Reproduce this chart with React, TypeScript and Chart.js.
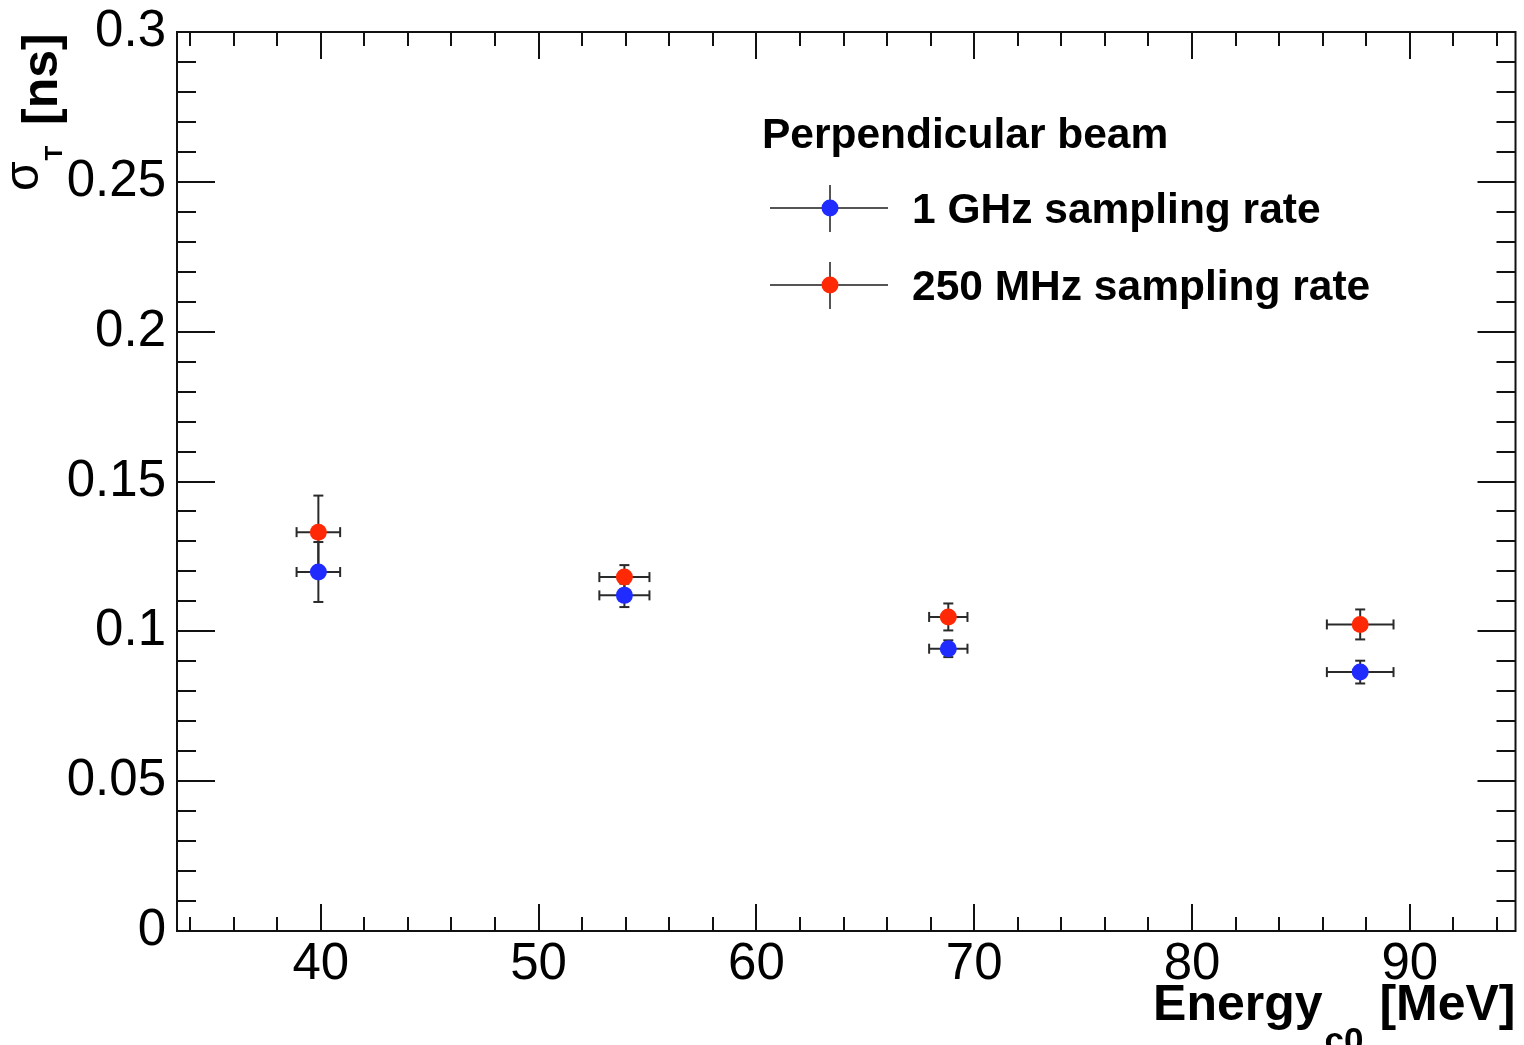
import React, { useEffect, useRef } from "react";
import { Chart, registerables } from "chart.js";

Chart.register(...registerables);

// ---------------- data ----------------
const energies = [39.89, 53.94, 68.81, 87.72];
const energyErr = [1.0, 1.15, 0.88, 1.53];
const sigma1GHz = [0.1198, 0.112, 0.0942, 0.0864];
const sigma1GHzErr = [0.01, 0.0039, 0.0028, 0.0038];
const sigma250MHz = [0.1331, 0.1181, 0.1048, 0.1023];
const sigma250MHzErr = [0.0122, 0.004, 0.0045, 0.005];
const xTickValues = [40, 50, 60, 70, 80, 90];
const xTickLabels = ["40", "50", "60", "70", "80", "90"];
const yTickValues = [0, 0.05, 0.1, 0.15, 0.2, 0.25, 0.3];
const yTickLabels = ["0", "0.05", "0.1", "0.15", "0.2", "0.25", "0.3"];
const seriesNames = ["1 GHz sampling rate", "250 MHz sampling rate"];
const legendHeader = "Perpendicular beam";

const X_MIN = 33.4;
const X_MAX = 94.85;
const Y_MIN = 0;
const Y_MAX = 0.3;

const FONT = '"Liberation Sans", Arial, Helvetica, sans-serif';
const BLUE = "#1f2bff";
const RED = "#ff2a05";
const ERR_COLOR = "#2a2a2a";

// ---------------- plugins ----------------
const framePlugin = {
  id: "rootFrame",
  beforeDatasetsDraw(chart: any) {
    const { ctx, chartArea, scales } = chart;
    const { left, right, top, bottom } = chartArea;
    const x = scales.x;
    const y = scales.y;
    ctx.save();
    ctx.strokeStyle = "#111";
    ctx.lineWidth = 2;
    ctx.lineCap = "butt";
    const line = (x1: number, y1: number, x2: number, y2: number) => {
      ctx.beginPath();
      ctx.moveTo(x1, y1);
      ctx.lineTo(x2, y2);
      ctx.stroke();
    };
    // x ticks: minor every 2, major every 10
    for (let k = Math.ceil(x.min / 2); k * 2 <= x.max; k++) {
      const v = k * 2;
      const px = Math.round(x.getPixelForValue(v));
      const len = v % 10 === 0 ? 27 : 14;
      line(px, bottom, px, bottom - len);
      line(px, top, px, top + len);
    }
    // y ticks: minor every 0.01, major every 0.05
    for (let k = 0; k <= 30; k++) {
      const py = Math.round(y.getPixelForValue(k / 100));
      const len = k % 5 === 0 ? 38 : 19;
      line(left, py, left + len, py);
      line(right, py, right - len, py);
    }
    ctx.strokeRect(left, top, right - left, bottom - top);

    // error bars
    ctx.strokeStyle = ERR_COLOR;
    ctx.lineWidth = 2;
    const cap = 5;
    chart.data.datasets.forEach((ds: any) => {
      ds.data.forEach((p: any, j: number) => {
        const cx = x.getPixelForValue(p.x);
        const cy = y.getPixelForValue(p.y);
        const x1 = x.getPixelForValue(p.x - ds.xErr[j]);
        const x2 = x.getPixelForValue(p.x + ds.xErr[j]);
        const y1 = y.getPixelForValue(p.y + ds.yErr[j]);
        const y2 = y.getPixelForValue(p.y - ds.yErr[j]);
        line(x1, cy, x2, cy);
        line(cx, y1, cx, y2);
        line(x1, cy - cap, x1, cy + cap);
        line(x2, cy - cap, x2, cy + cap);
        line(cx - cap, y1, cx + cap, y1);
        line(cx - cap, y2, cx + cap, y2);
      });
    });
    ctx.restore();
  },
  afterDraw(chart: any) {
    const { ctx, chartArea } = chart;
    ctx.save();
    ctx.fillStyle = "#000";
    ctx.textAlign = "left";
    ctx.textBaseline = "alphabetic";

    // ---- legend ----
    ctx.font = `bold 42.5px ${FONT}`;
    ctx.fillText(legendHeader, 762, 148);
    const colors = [BLUE, RED];
    const rowsY = [208, 285];
    seriesNames.forEach((name, i) => {
      const my = rowsY[i];
      ctx.strokeStyle = "#555";
      ctx.lineWidth = 2;
      ctx.beginPath();
      ctx.moveTo(770, my);
      ctx.lineTo(888, my);
      ctx.moveTo(830, my - 23);
      ctx.lineTo(830, my + 24);
      ctx.stroke();
      ctx.fillStyle = colors[i];
      ctx.beginPath();
      ctx.arc(830, my, 8.5, 0, Math.PI * 2);
      ctx.fill();
      ctx.fillStyle = "#000";
      ctx.font = `bold 42.5px ${FONT}`;
      ctx.fillText(name, 912, my + 15);
    });

    // ---- x axis title: Energy_{c0} [MeV] ----
    const mainFont = `bold 50px ${FONT}`;
    const subFont = `bold 35px ${FONT}`;
    ctx.font = mainFont;
    const wE = ctx.measureText("Energy").width;
    const wU = ctx.measureText(" [MeV]").width;
    ctx.font = subFont;
    const wS = ctx.measureText("c0").width;
    let tx = chartArea.right - (wE + wS + 4 + wU);
    const base = 1020;
    ctx.font = mainFont;
    ctx.fillText("Energy", tx, base);
    tx += wE + 2;
    ctx.font = subFont;
    ctx.fillText("c0", tx, base + 32);
    tx += wS + 2;
    ctx.font = mainFont;
    ctx.fillText(" [MeV]", tx, base);

    // ---- y axis title: sigma_T [ns] ----
    ctx.translate(57, 191);
    ctx.rotate(-Math.PI / 2);
    ctx.font = `48px ${FONT}`;
    ctx.fillText("σ", 0, -19);
    const wSig = ctx.measureText("σ").width;
    ctx.font = `bold 24px ${FONT}`;
    ctx.fillText("T", wSig + 1, 5);
    ctx.font = `bold 50px ${FONT}`;
    ctx.fillText("[ns]", 66, 0);
    ctx.restore();
  },
};

export default function App() {
  const ref = useRef<HTMLCanvasElement>(null);
  useEffect(() => {
    const canvas = ref.current;
    if (!canvas) return;
    const chart = new Chart(canvas, {
      type: "scatter",
      data: {
        datasets: [
          {
            label: seriesNames[0],
            data: energies.map((e, i) => ({ x: e, y: sigma1GHz[i] })),
            xErr: energyErr,
            yErr: sigma1GHzErr,
            backgroundColor: BLUE,
            borderColor: BLUE,
            pointRadius: 8.5,
            pointBorderWidth: 0,
            showLine: false,
          } as any,
          {
            label: seriesNames[1],
            data: energies.map((e, i) => ({ x: e, y: sigma250MHz[i] })),
            xErr: energyErr,
            yErr: sigma250MHzErr,
            backgroundColor: RED,
            borderColor: RED,
            pointRadius: 8.5,
            pointBorderWidth: 0,
            showLine: false,
          } as any,
        ],
      },
      options: {
        responsive: false,
        animation: false,
        devicePixelRatio: 1,
        layout: { padding: { top: 32, right: 7, bottom: 0, left: 0 } },
        plugins: {
          legend: { display: false },
          tooltip: { enabled: false },
        },
        scales: {
          x: {
            type: "linear",
            min: X_MIN,
            max: X_MAX,
            grid: { display: false, drawTicks: false },
            border: { display: false },
            ticks: {
              color: "#000",
              font: { family: FONT, size: 51 },
              padding: 3,
              maxRotation: 0,
              autoSkip: false,
              callback: (_v: any, i: number) => xTickLabels[i],
            },
            afterBuildTicks: (s: any) => {
              s.ticks = xTickValues.map((v) => ({ value: v }));
            },
            afterFit: (s: any) => {
              s.height = 114;
              s.paddingLeft = 0;
              s.paddingRight = 0;
            },
          },
          y: {
            type: "linear",
            min: Y_MIN,
            max: Y_MAX,
            grid: { display: false, drawTicks: false },
            border: { display: false },
            ticks: {
              color: "#000",
              font: { family: FONT, size: 51 },
              padding: 11,
              autoSkip: false,
              callback: (_v: any, i: number) => yTickLabels[i],
            },
            afterBuildTicks: (s: any) => {
              s.ticks = yTickValues.map((v) => ({ value: v }));
            },
            afterFit: (s: any) => {
              s.width = 177;
              s.paddingTop = 0;
              s.paddingBottom = 0;
            },
          },
        },
      },
      plugins: [framePlugin],
    } as any);
    return () => chart.destroy();
  }, []);

  return (
    <div
      style={{
        position: "fixed",
        left: 0,
        top: 0,
        width: 1524,
        height: 1045,
        background: "#fff",
        overflow: "hidden",
      }}
    >
      <canvas
        ref={ref}
        width={1524}
        height={1045}
        style={{ display: "block", width: 1524, height: 1045 }}
      />
    </div>
  );
}
